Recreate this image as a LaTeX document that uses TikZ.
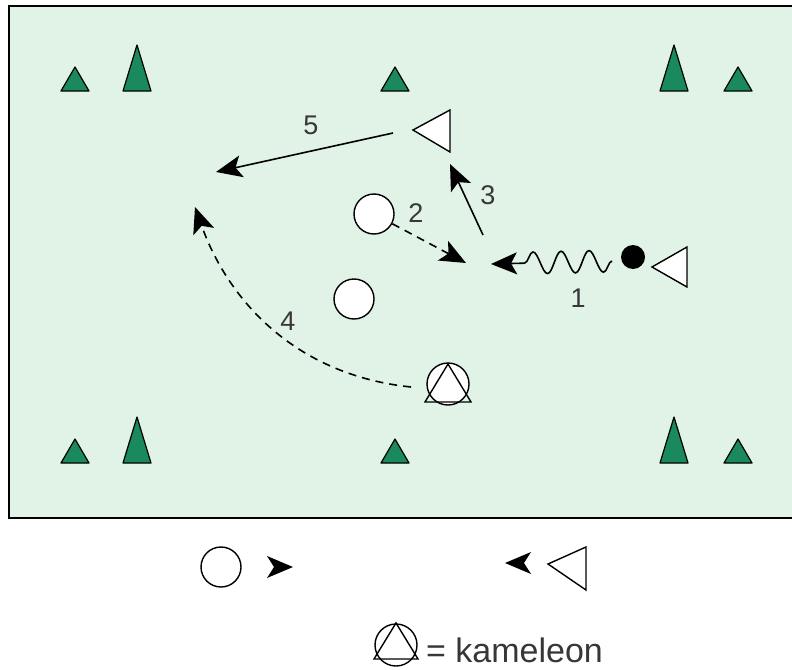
\documentclass[tikz,border=0pt]{standalone}
\usepackage{fontspec}
\setmainfont{Liberation Sans}
\usepackage{xcolor}
\usetikzlibrary{arrows.meta,decorations.pathmorphing}
\definecolor{fieldgreen}{RGB}{225,242,230}
\definecolor{conegreen}{RGB}{26,138,92}
\definecolor{labelgray}{RGB}{55,55,55}

\tikzset{
  arr/.style={-{Stealth[length=26pt,width=22pt,inset=6pt]}},
  pass/.style={line width=1.6pt,dash pattern=on 8pt off 6pt},
  run/.style={line width=1.6pt},
  player/.style={circle,draw,fill=white,line width=1.4pt,minimum size=40pt,inner sep=0pt},
  defender/.style={draw,fill=white,line width=1.4pt,line join=miter},
  cone/.style={draw,fill=conegreen,line width=1.2pt,line join=round},
  number/.style={font=\fontsize{27}{27}\selectfont,text=labelgray,inner sep=0pt}
}

\begin{document}
\begin{tikzpicture}[x=1pt,y=-1pt]
    % basics
    \useasboundingbox (0,0) rectangle (792,669);
    \clip (0,0) rectangle (792,669);
    \draw[fill=fieldgreen,line width=2pt] (9,6) rectangle (810,518);

    % cones
    \foreach \y in {91,463} {
      \foreach \x in {75,395,738}
        \draw[cone] (\x-14,\y) -- (\x,\y-24) -- (\x+14,\y) -- cycle;
      \foreach \x in {137,674}
        \draw[cone] (\x-14,\y) -- (\x,\y-46) -- (\x+14,\y) -- cycle;
    }

    % players
    \node[player] (c1) at (374,214) {};
    \node[player] (c2) at (354,299) {};
    \draw[defender] (413,130) -- (450,110) -- (450,152) -- cycle;
    \draw[defender] (652,267) -- (687,247) -- (687,287) -- cycle;
    \fill (633,257) circle (12);
    \node[player,minimum size=42pt] (k) at (448,384) {};
    \draw[defender,fill=none] (448,364) -- (471,402) -- (425,402) -- cycle;

    % points of the moves
    \coordinate (s1) at (612,261);
    \coordinate (t1) at (491,264);
    \coordinate (t2) at (466,263);
    \coordinate (s3) at (483,235);
    \coordinate (t3) at (450,164);
    \coordinate (s4) at (411,387);
    \coordinate (t4) at (195,207);
    \coordinate (s5) at (393,133);
    \coordinate (t5) at (216,172);

    % moves
    \draw[run,arr,decorate,decoration={snake,amplitude=11pt,segment length=28pt,post length=26pt}] (s1) -- (t1);
    \draw[pass,arr] (c1) -- (t2);
    \draw[run,arr] (s3) -- (t3);
    \draw[pass,arr] (s4) .. controls (295,375) and (228,300) .. (t4);
    \draw[run,arr] (s5) -- (t5);

    \node[number] (l1) at (578,298) {1};
    \node[number] (l2) at (416,213) {2};
    \node[number] (l3) at (488,195) {3};
    \node[number] (l4) at (288,321) {4};
    \node[number] (l5) at (311,125) {5};

    % legend
    \node[player,fill=none] (lc) at (221,567) {};
    \fill (293,567) -- (267,556) -- (274,567) -- (267,578) -- cycle;
    \fill (505,563) -- (531,552) -- (524,563) -- (531,574) -- cycle;
    \draw[defender,fill=none] (548,564) -- (586,547) -- (586,590) -- cycle;
    \node[player,fill=none,minimum size=42pt] (lk) at (396,645) {};
    \draw[defender,fill=none] (396,623) -- (418,659) -- (374,659) -- cycle;
    \node[font=\fontsize{34}{34}\selectfont,text=labelgray,anchor=west,inner sep=0pt] (kam) at (426,650) {= kameleon};
\end{tikzpicture}
\end{document}
